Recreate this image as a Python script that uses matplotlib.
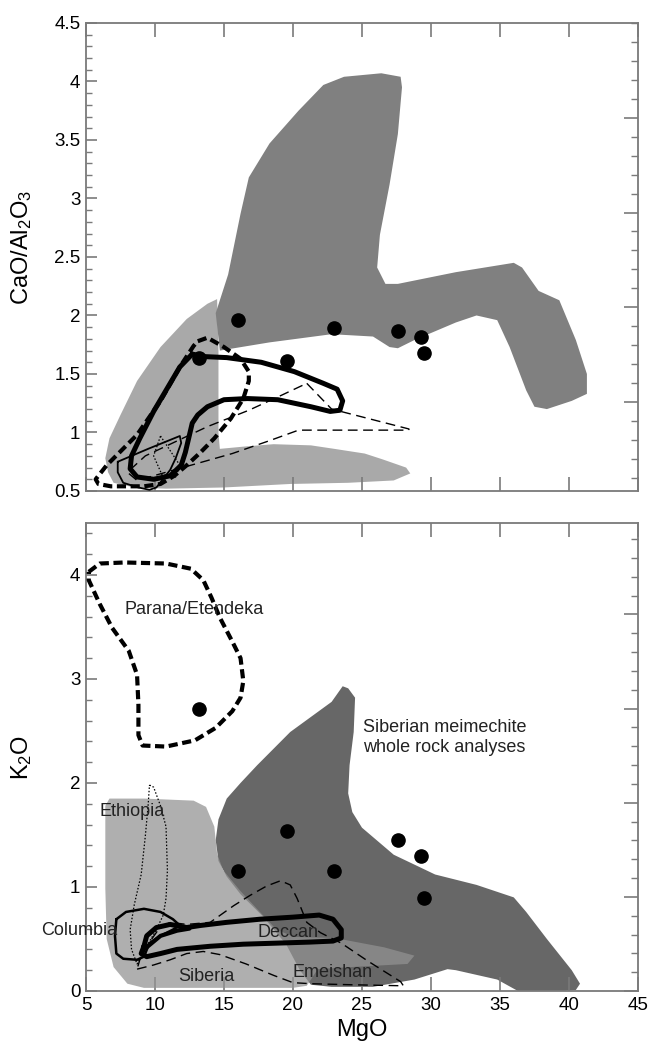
import matplotlib
matplotlib.use('Agg')
import matplotlib.pyplot as plt
from matplotlib.ticker import MultipleLocator, FixedLocator, NullFormatter, FormatStrFormatter
import numpy as np

plt.rcParams['font.family'] = ['Liberation Sans', 'DejaVu Sans']
plt.rcParams['mathtext.fontset'] = 'custom'
plt.rcParams['mathtext.rm'] = 'Liberation Sans'
plt.rcParams['mathtext.it'] = 'Liberation Sans'
plt.rcParams['mathtext.bf'] = 'Liberation Sans'

# meimechite samples (same samples in both panels)
sample_mgo = [13.2, 16.0, 19.6, 23.0, 27.6, 29.3, 29.5]
sample_ratio = [1.64, 1.96, 1.61, 1.89, 1.87, 1.82, 1.68]
sample_k2o = [2.71, 1.15, 1.54, 1.15, 1.45, 1.30, 0.89]

# ---- upper panel: CaO/Al2O3 vs MgO ----
top_dark_mgo = [15.3, 16.2, 16.8, 18.3, 20.4, 22.2, 23.7, 26.4, 27.8, 27.9, 27.6, 27.0, 26.3, 26.1,
                26.7, 27.6, 31.8, 36.0, 36.6, 37.8, 39.3, 40.5, 41.3, 41.3, 40.2, 38.4, 37.5, 36.9,
                35.7, 34.8, 33.3, 31.8, 28.8, 27.6, 27.0, 25.8, 22.8, 18.3, 14.7, 14.4]
top_dark_ratio = [2.35, 2.87, 3.18, 3.47, 3.75, 3.97, 4.04, 4.07, 4.04, 3.95, 3.55, 3.12, 2.69, 2.41,
                  2.27, 2.27, 2.37, 2.45, 2.41, 2.21, 2.13, 1.79, 1.50, 1.33, 1.27, 1.20, 1.22, 1.36,
                  1.73, 1.96, 2.00, 1.94, 1.79, 1.72, 1.73, 1.82, 1.84, 1.77, 1.70, 2.02]

top_light_mgo = [14.5, 13.8, 12.3, 10.4, 8.7, 7.5, 6.7, 6.4, 6.6, 7.0, 8.5, 10.8, 15.0, 19.8, 24.0,
                 27.3, 28.5, 28.2, 26.5, 25.2, 23.0, 21.3, 18.6, 16.5, 14.7, 14.6, 14.6]
top_light_ratio = [2.14, 2.10, 1.97, 1.73, 1.44, 1.15, 0.95, 0.78, 0.66, 0.57, 0.53, 0.52, 0.53, 0.56,
                   0.57, 0.59, 0.65, 0.70, 0.77, 0.82, 0.86, 0.89, 0.90, 0.88, 0.86, 1.00, 1.70]

top_thick_mgo = [12.7, 13.3, 15.2, 17.7, 20.1, 22.2, 23.2, 23.6, 23.4, 22.7, 21.3, 18.9, 16.7, 15.0,
                 13.8, 13.1, 12.7, 12.5, 12.2, 11.9, 11.1, 9.9, 8.7, 8.2, 8.3, 8.9, 9.9, 10.9, 11.8]
top_thick_ratio = [1.67, 1.65, 1.64, 1.60, 1.52, 1.42, 1.37, 1.27, 1.19, 1.18, 1.22, 1.28, 1.29, 1.28,
                   1.22, 1.15, 1.08, 0.98, 0.83, 0.72, 0.63, 0.60, 0.62, 0.69, 0.80, 0.95, 1.18, 1.38, 1.56]

top_tdash_mgo = [13.1, 13.8, 15.0, 16.2, 16.8, 16.8, 16.4, 15.5, 14.3, 13.3, 12.3, 11.4, 10.4, 9.2,
                 6.8, 5.9, 5.7, 6.5, 8.7, 10.4, 11.8, 12.8]
top_tdash_ratio = [1.78, 1.81, 1.73, 1.63, 1.52, 1.44, 1.29, 1.12, 0.95, 0.83, 0.72, 0.63, 0.56, 0.54,
                   0.54, 0.56, 0.60, 0.72, 0.98, 1.27, 1.56, 1.74]

top_dash_mgo = [21.0, 22.8, 28.4, 28.4, 20.4, 18.3, 15.6, 11.4, 8.7, 8.0, 9.3, 13.8, 16.8, 19.2]
top_dash_ratio = [1.42, 1.20, 1.03, 1.02, 1.02, 0.93, 0.82, 0.68, 0.59, 0.66, 0.80, 1.05, 1.19, 1.32]

top_thin_mgo = [7.3, 9.5, 11.8, 11.9, 11.5, 11.1, 10.1, 9.6, 8.8, 7.7, 7.3]
top_thin_ratio = [0.75, 0.86, 0.97, 0.91, 0.78, 0.68, 0.53, 0.51, 0.53, 0.57, 0.66]

top_dot_mgo = [10.4, 11.8, 11.5, 10.5, 9.9]
top_dot_ratio = [0.97, 0.72, 0.62, 0.64, 0.80]

# ---- lower panel: K2O vs MgO ----
meim_mgo = [23.6, 24.0, 24.5, 24.4, 24.1, 24.0, 24.3, 25.0, 27.3, 30.3, 33.3, 36.0, 36.9, 38.4, 40.2,
            40.8, 40.5, 37.8, 36.3, 34.8, 31.8, 31.2, 28.8, 25.8, 22.8, 21.3, 20.5, 19.5, 17.8, 16.2,
            15.2, 14.6, 14.4, 14.6, 15.2, 16.2, 17.4, 19.8, 22.8]
meim_k2o = [2.93, 2.91, 2.82, 2.49, 2.17, 1.90, 1.72, 1.57, 1.31, 1.12, 1.02, 0.90, 0.76, 0.50, 0.20,
            0.07, 0.01, -0.02, 0.00, 0.11, 0.20, 0.21, 0.11, 0.04, 0.04, 0.06, 0.20, 0.45, 0.72, 0.93,
            1.10, 1.25, 1.45, 1.65, 1.85, 2.00, 2.17, 2.49, 2.78]

siberia_mgo = [6.4, 6.4, 6.7, 9.2, 12.8, 13.7, 14.3, 14.5, 14.95, 16.2, 17.6, 18.8, 20.1, 23.0, 26.6,
               28.8, 28.3, 24.2, 21.8, 21.0, 20.0, 17.6, 9.2, 8.0, 7.0, 6.5, 6.4]
siberia_k2o = [1.65, 1.78, 1.85, 1.85, 1.83, 1.77, 1.58, 1.32, 1.16, 0.96, 0.76, 0.59, 0.52, 0.51, 0.42,
               0.34, 0.26, 0.23, 0.21, 0.05, 0.03, 0.03, 0.03, 0.07, 0.23, 0.50, 0.99]

parana_mgo = [5.2, 6.0, 7.8, 10.8, 12.6, 13.5, 14.1, 14.7, 15.6, 16.2, 16.4, 16.2, 15.6, 14.4, 12.9,
              10.8, 9.1, 8.8, 8.8, 8.7, 8.1, 6.9, 6.0, 5.2]
parana_k2o = [4.03, 4.11, 4.12, 4.11, 4.06, 3.95, 3.78, 3.59, 3.36, 3.20, 2.98, 2.82, 2.69, 2.53, 2.41,
              2.35, 2.36, 2.46, 2.75, 3.04, 3.27, 3.49, 3.72, 3.95]

ethiopia_mgo = [9.6, 9.9, 10.4, 10.8, 10.9, 10.8, 10.6, 10.1, 9.4, 9.0, 8.7, 8.3, 8.2, 8.5, 9.0, 9.3, 9.5]
ethiopia_k2o = [1.98, 1.96, 1.78, 1.58, 1.16, 0.89, 0.73, 0.59, 0.43, 0.33, 0.26, 0.40, 0.59, 0.83,
                1.12, 1.49, 1.78]

columbia_mgo = [7.2, 7.9, 9.2, 10.4, 11.3, 11.8, 11.3, 10.4, 9.6, 9.2, 8.7, 7.7, 7.2, 7.1]
columbia_k2o = [0.69, 0.76, 0.79, 0.76, 0.69, 0.63, 0.59, 0.53, 0.46, 0.33, 0.30, 0.31, 0.36, 0.53]

deccan_mgo = [9.2, 9.4, 10.1, 11.1, 12.3, 13.3, 15.2, 17.6, 20.0, 21.9, 22.9, 23.5, 23.5, 22.9, 21.2,
              18.8, 16.4, 14.0, 11.6, 10.4, 9.4, 9.0]
deccan_k2o = [0.43, 0.53, 0.61, 0.64, 0.61, 0.63, 0.66, 0.69, 0.71, 0.73, 0.69, 0.59, 0.51, 0.48, 0.47,
              0.46, 0.45, 0.43, 0.40, 0.36, 0.33, 0.36]
deccan_inner_mgo = [9.4, 10.4, 11.6, 12.5]
deccan_inner_k2o = [0.42, 0.53, 0.58, 0.60]

emeishan_mgo = [8.7, 9.9, 11.1, 12.3, 13.5, 14.7, 16.6, 18.6, 20.0, 21.3, 24.2, 28.0, 27.8, 25.4, 23.5,
                22.0, 21.0, 20.3, 19.8, 19.1, 18.1, 16.9, 15.7, 14.0, 12.3, 11.1, 10.3, 9.5, 8.9]
emeishan_k2o = [0.21, 0.25, 0.30, 0.36, 0.38, 0.35, 0.26, 0.15, 0.08, 0.07, 0.06, 0.05, 0.09, 0.29, 0.46,
                0.56, 0.66, 0.89, 1.02, 1.06, 1.01, 0.92, 0.82, 0.66, 0.64, 0.66, 0.60, 0.45, 0.30]

labels = [
    ('Parana/Etendeka', 7.8, 3.67, 'left'),
    ('Siberian meimechite\nwhole rock analyses', 25.1, 2.44, 'left'),
    ('Ethiopia', 6.0, 1.73, 'left'),
    ('Columbia', 7.3, 0.58, 'right'),
    ('Deccan', 17.4, 0.56, 'left'),
    ('Siberia', 11.7, 0.14, 'left'),
    ('Emeishan', 20.0, 0.18, 'left'),
]

SPINE = '#7a7a7a'


def closed(xs, ys):
    return list(xs) + [xs[0]], list(ys) + [ys[0]]


def outline(ax, xs, ys, **kw):
    cx, cy = closed(xs, ys)
    ax.plot(cx, cy, color='black', solid_joinstyle='round', dash_joinstyle='round',
            solid_capstyle='round', dash_capstyle='butt', **kw)


def style_axes(ax, ylim, ymajor, yminor, right_start, right_step, labelbottom):
    ax.set_xlim(5, 45)
    ax.set_ylim(*ylim)
    ax.xaxis.set_major_locator(MultipleLocator(5))
    ax.yaxis.set_major_locator(MultipleLocator(ymajor))
    ax.yaxis.set_minor_locator(MultipleLocator(yminor))
    ax.yaxis.set_major_formatter(FormatStrFormatter('%g'))
    ax.tick_params(axis='x', which='major', direction='in', top=True, bottom=True,
                   length=10, width=1.2, color=SPINE, labelsize=13.5, pad=4,
                   labelbottom=labelbottom)
    ax.tick_params(axis='y', which='major', direction='in', length=8, width=1.2,
                   color=SPINE, labelsize=13.5, pad=4)
    ax.tick_params(axis='y', which='minor', direction='in', length=4, width=1.0, color=SPINE)
    for s in ax.spines.values():
        s.set_color(SPINE)
        s.set_linewidth(1.3)
    # unlabelled right-hand scale
    ax2 = ax.twinx()
    ax2.set_ylim(*ylim)
    ax2.yaxis.set_major_locator(FixedLocator(np.arange(right_start, ylim[0] - 0.01, -5 * right_step)))
    ax2.yaxis.set_minor_locator(FixedLocator(np.arange(ylim[1] + right_step, ylim[0] - 0.01, -right_step)
                                             - (ylim[1] + right_step - right_start) % right_step))
    ax2.yaxis.set_major_formatter(NullFormatter())
    ax2.tick_params(axis='y', which='major', direction='in', length=10, width=1.2, color=SPINE)
    ax2.tick_params(axis='y', which='minor', direction='in', length=5, width=1.0, color=SPINE)
    for s in ax2.spines.values():
        s.set_visible(False)


fig = plt.figure(figsize=(6.49, 10.48), dpi=100)
ax_top = fig.add_axes([0.1325, 0.5315, 0.8505, 0.4466])
ax_bot = fig.add_axes([0.1325, 0.0544, 0.8505, 0.4466])

# upper panel
ax_top.fill(top_light_mgo, top_light_ratio, color='#a9a9a9', lw=0, zorder=1)
ax_top.fill(top_dark_mgo, top_dark_ratio, color='#808080', lw=0, zorder=2)
outline(ax_top, top_dash_mgo, top_dash_ratio, lw=1.0, dashes=(7, 4), zorder=3)
outline(ax_top, top_dot_mgo, top_dot_ratio, lw=0.9, dashes=(1.2, 1.5), zorder=3)
outline(ax_top, top_thin_mgo, top_thin_ratio, lw=1.3, zorder=3)
outline(ax_top, top_tdash_mgo, top_tdash_ratio, lw=3.0, dashes=(2.2, 1.1), zorder=4)
outline(ax_top, top_thick_mgo, top_thick_ratio, lw=3.6, zorder=5)
ax_top.plot(sample_mgo, sample_ratio, 'o', color='black', ms=9.5, zorder=6)
ax_top.set_ylabel('CaO/Al$_2$O$_3$', fontsize=17)
ax_top.yaxis.set_label_coords(-0.095, 0.52)
style_axes(ax_top, (0.5, 4.5), 0.5, 0.1, 3.69, 0.162, False)

# lower panel
ax_bot.fill(meim_mgo, meim_k2o, color='#676767', lw=0, zorder=1)
ax_bot.fill(siberia_mgo, siberia_k2o, color='#929292', alpha=0.73, lw=0, zorder=2)
outline(ax_bot, ethiopia_mgo, ethiopia_k2o, lw=0.9, dashes=(1.2, 1.5), zorder=3)
outline(ax_bot, emeishan_mgo, emeishan_k2o, lw=1.0, dashes=(7, 4), zorder=3)
outline(ax_bot, columbia_mgo, columbia_k2o, lw=1.8, zorder=3)
outline(ax_bot, parana_mgo, parana_k2o, lw=3.0, dashes=(2.2, 1.1), zorder=4)
outline(ax_bot, deccan_mgo, deccan_k2o, lw=3.6, zorder=5)
ax_bot.plot(deccan_inner_mgo, deccan_inner_k2o, color='black', lw=3.0, solid_capstyle='round', zorder=5)
ax_bot.plot(sample_mgo, sample_k2o, 'o', color='black', ms=9.5, zorder=6)
for text, x, y, ha in labels:
    ax_bot.text(x, y, text, fontsize=13, ha=ha, va='center', color='#222222', zorder=7,
                linespacing=1.25)
ax_bot.set_ylabel('K$_2$O', fontsize=17)
ax_bot.yaxis.set_label_coords(-0.095, 0.5)
ax_bot.set_xlabel('MgO', fontsize=17, labelpad=4)
style_axes(ax_bot, (0, 4.5), 1, 0.2, 3.62, 0.181, True)

fig.savefig('out.png', dpi=100)
